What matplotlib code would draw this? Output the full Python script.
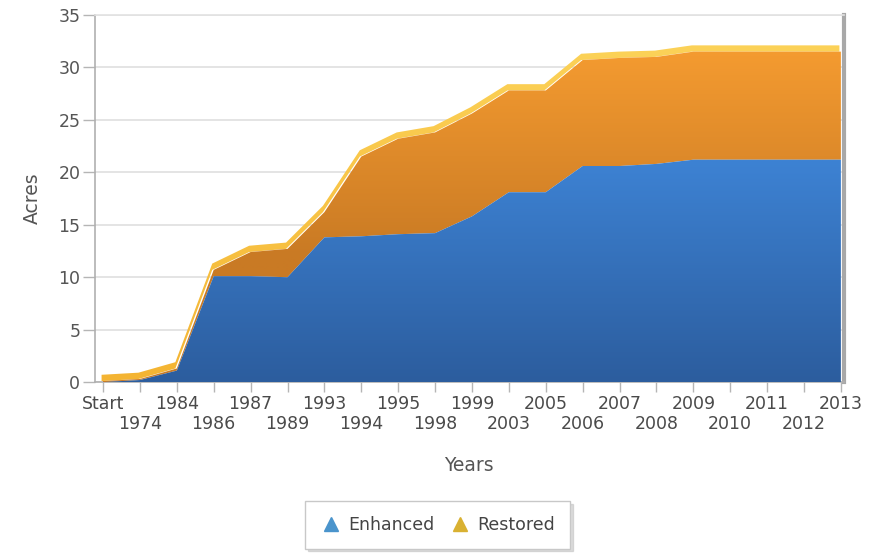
import numpy as np
import matplotlib
matplotlib.use("Agg")
import matplotlib.pyplot as plt
from matplotlib.patches import PathPatch
from matplotlib.lines import Line2D

# Cumulative acreage by year
years = ["Start", "1974", "1984", "1986", "1987", "1989", "1993", "1994", "1995",
         "1998", "1999", "2003", "2005", "2006", "2007", "2008", "2009", "2010",
         "2011", "2012", "2013"]
enhanced = [0.0, 0.2, 1.1, 10.1, 10.1, 10.0, 13.8, 13.9, 14.1, 14.2, 15.8, 18.1,
            18.1, 20.6, 20.6, 20.8, 21.2, 21.2, 21.2, 21.2, 21.2]
restored = [0.1, 0.1, 0.2, 0.6, 2.3, 2.7, 2.4, 7.6, 9.1, 9.6, 9.8, 9.7, 9.7,
            10.1, 10.3, 10.2, 10.3, 10.3, 10.3, 10.3, 10.3]
yticks = [0, 5, 10, 15, 20, 25, 30, 35]

plt.rcParams["font.family"] = ["DejaVu Sans"]

fig = plt.figure(figsize=(8.79, 5.53), dpi=100)
fig.patch.set_facecolor("white")
ax = fig.add_axes([0.108, 0.309, 0.852, 0.664])

x = np.arange(len(years))
enh = np.array(enhanced)
tot = enh + np.array(restored)
XMIN, XMAX = -0.22, len(years) - 1 + 0.08
YMIN, YMAX = 0, 35


def gradient_fill(xs, lo, hi, c_top, c_bot, z, g_lo, g_hi, xshift=0.0):
    """Fill between lo and hi with a vertical colour ramp from g_lo to g_hi."""
    poly = ax.fill_between(xs + xshift, lo, hi, facecolor="none", lw=0)
    path = poly.get_paths()[0]
    patch = PathPatch(path, transform=ax.transData, facecolor="none",
                      edgecolor="none")
    ax.add_patch(patch)
    ys = np.linspace(YMIN, YMAX, 400)
    t = np.clip((ys - g_lo) / (g_hi - g_lo), 0, 1)[:, None, None]
    c_top = np.array(matplotlib.colors.to_rgb(c_top))[None, None, :]
    c_bot = np.array(matplotlib.colors.to_rgb(c_bot))[None, None, :]
    grad = c_bot * (1 - t) + c_top * t
    grad = np.repeat(grad, 2, axis=1)
    img = ax.imshow(grad, extent=[XMIN, XMAX, YMIN, YMAX], origin="lower",
                    aspect="auto", zorder=z, interpolation="bilinear")
    img.set_clip_path(patch)


# depth face on top of the stack
gradient_fill(x, tot, tot + 0.6, "#fcd258", "#f4b432", 2, 0, 32, xshift=-0.04)
# Restored (front face)
gradient_fill(x, enh, tot, "#f39a30", "#c97a24", 3, 12, 31)
# Enhanced (front face)
gradient_fill(x, np.zeros_like(enh), enh, "#3d82d3", "#2c5d9e", 4, 0, 21)

ax.set_xlim(XMIN, XMAX)
ax.set_ylim(YMIN, YMAX)

# grid and axes styling
ax.set_yticks(yticks)
ax.set_yticklabels([str(v) for v in yticks])
ax.yaxis.grid(True, color="#dcdcdc", lw=1.1, zorder=0)
ax.set_axisbelow(True)
ax.tick_params(axis="y", direction="out", length=8.5, width=1, color="#b5b5b5",
               labelsize=12.5, labelcolor="#555555", pad=2)

ax.set_xticks(x)
ax.set_xticklabels(years)
ax.tick_params(axis="x", direction="out", length=7, width=1, color="#b5b5b5",
               labelsize=12.5, labelcolor="#4a4a4a", pad=2.5)
for i, tick in enumerate(ax.xaxis.get_major_ticks()):
    if i % 2 == 1:
        tick.set_pad(16.5)

for side in ["left", "bottom"]:
    ax.spines[side].set_color("#b0b0b0")
    ax.spines[side].set_linewidth(1.2)
ax.spines["top"].set_color("#e2e2e2")
ax.spines["top"].set_linewidth(1.2)
ax.spines["right"].set_color("#a8a8a8")
ax.spines["right"].set_linewidth(3.0)

ax.set_ylabel("Acres", fontsize=13.5, color="#555555", labelpad=12)
ax.set_xlabel("Years", fontsize=13.5, color="#555555", labelpad=17)

handles = [
    Line2D([], [], marker="^", ls="none", color="#4a94cc", markersize=10),
    Line2D([], [], marker="^", ls="none", color="#d9b132", markersize=10),
]
leg = fig.legend(handles, ["Enhanced", "Restored"], loc="center",
                 bbox_to_anchor=(0.498, 0.051), ncol=2, frameon=True,
                 fontsize=12.5, handletextpad=0.4, columnspacing=0.9,
                 borderpad=0.85, fancybox=False, shadow={"color": "#bbbbbb"},
                 labelcolor="#444444", handlelength=1.2)
leg.get_frame().set_edgecolor("#c8c8c8")
leg.get_frame().set_linewidth(1)

fig.savefig("out.png", dpi=100, facecolor="white")
